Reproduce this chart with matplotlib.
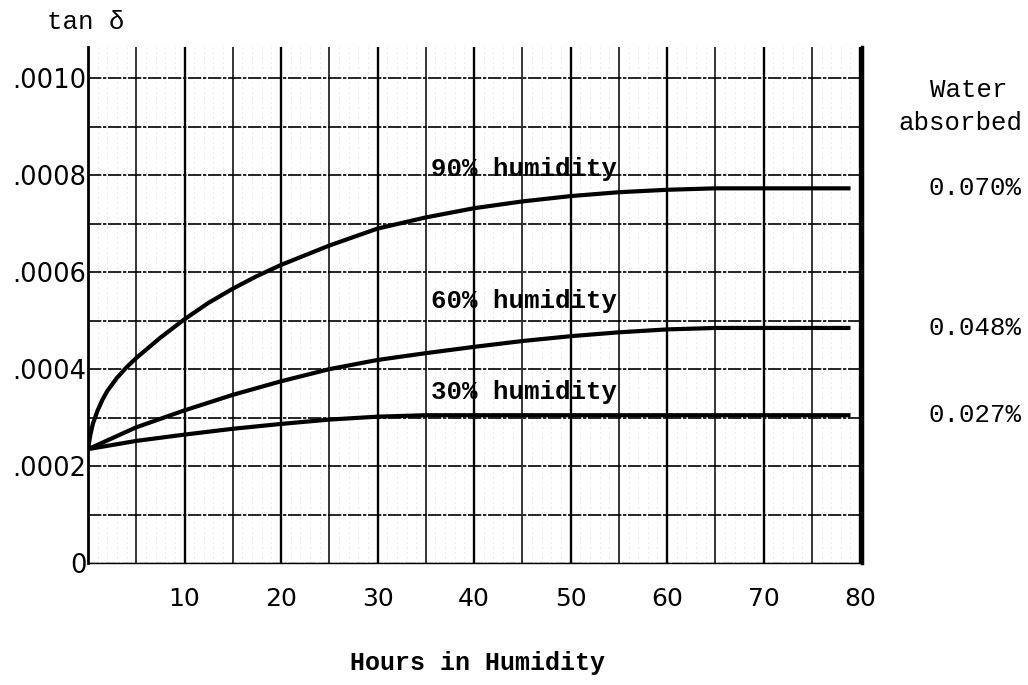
import matplotlib
matplotlib.use("Agg")
import matplotlib.pyplot as plt
import matplotlib.transforms as mtransforms
import numpy as np

# datos (horas, tan delta)
horas_90 = [0, 0.25, 0.5, 1, 1.5, 2, 3, 4, 5, 7.5, 10, 12.5, 15, 17.5, 20, 25, 30, 35,
            40, 45, 50, 55, 60, 65, 70, 79]
tan_90 = [0.000235, 0.000265, 0.000287, 0.000315, 0.000337, 0.000355, 0.000382, 0.000404,
          0.000423, 0.000465, 0.000503, 0.000537, 0.000566, 0.000592, 0.000615, 0.000655,
          0.00069, 0.000713, 0.000732, 0.000746, 0.000757, 0.000765, 0.00077, 0.000773,
          0.000773, 0.000773]

horas_60 = [0, 5, 10, 15, 20, 25, 30, 35, 40, 45, 50, 55, 60, 65, 79]
tan_60 = [0.000235, 0.00028, 0.000315, 0.000347, 0.000375, 0.0004, 0.000419, 0.000433,
          0.000446, 0.000458, 0.000468, 0.000476, 0.000482, 0.000485, 0.000485]

horas_30 = [0, 5, 10, 15, 20, 25, 30, 35, 79]
tan_30 = [0.000235, 0.000252, 0.000265, 0.000277, 0.000287, 0.000296, 0.000302, 0.000305, 0.000305]

etiquetas = ["90% humidity", "60% humidity", "30% humidity"]
agua = ["0.070%", "0.048%", "0.027%"]

x_ticks = [10, 20, 30, 40, 50, 60, 70, 80]
y_ticks = [0, 0.0002, 0.0004, 0.0006, 0.0008, 0.0010]
y_labels = ["0", ".0002", ".0004", ".0006", ".0008", ".0010"]

mono = "Liberation Mono"
sans = "DejaVu Sans"

fig = plt.figure(figsize=(10.28, 6.85), dpi=100)
ax = fig.add_axes([0.0856, 0.178, 0.753, 0.753])

ax.set_xlim(0, 80.2)
ax.set_ylim(0, 0.001064)

# papel cuadriculado
for xv in np.arange(5, 81, 5):
    ax.axvline(xv, color="black", lw=1.7 if xv % 10 == 0 else 1.1, zorder=1)
for xv in np.arange(1, 80, 1):
    if xv % 5:
        ax.axvline(xv, color="#c8c8c8", lw=0.6, ls=(0, (1, 5)), zorder=0)
for yv in np.arange(0.0001, 0.00101, 0.0001):
    ax.axhline(yv, color="black", lw=1.2, ls=(0, (8, 1, 2, 1)), zorder=1)
ax.axhline(0, color="black", lw=1.0, ls=(0, (8, 1, 2, 1)), zorder=1)

for h, t in [(horas_90, tan_90), (horas_60, tan_60), (horas_30, tan_30)]:
    ax.plot(h, t, color="black", lw=3, solid_capstyle="butt", solid_joinstyle="round", zorder=3)

pos_etq = [0.000812, 0.00054, 0.000352]
for txt, yv in zip(etiquetas, pos_etq):
    ax.text(35.5, yv, txt, family=mono, fontweight="bold", fontsize=18.5,
            va="center", ha="left", zorder=4)

# porcentaje de agua a la derecha, a la altura de cada curva
trans = mtransforms.blended_transform_factory(fig.transFigure, ax.transData)
for txt, yv in zip(agua, [tan_90[-1], tan_60[-1], tan_30[-1]]):
    ax.text(975 / 1028, yv, txt, transform=trans, family=mono, fontsize=18.5,
            ha="center", va="center", clip_on=False)
fig.text(969 / 1028, 1 - 90 / 685, "Water", family=mono, fontsize=18.5, ha="center", va="center")
fig.text(960 / 1028, 1 - 123 / 685, "absorbed", family=mono, fontsize=18.5, ha="center", va="center")

ax.spines["top"].set_visible(False)
ax.spines["left"].set_linewidth(2)
ax.spines["right"].set_linewidth(2.5)
ax.spines["bottom"].set_linewidth(1)

ax.set_xticks(x_ticks)
ax.set_xticklabels([str(v) for v in x_ticks], family=sans, fontsize=18)
ax.set_yticks(y_ticks)
ax.set_yticklabels(y_labels, family=sans, fontsize=18.5)
ax.tick_params(length=0, pad=17, axis="x")
ax.tick_params(length=0, pad=1, axis="y")

fig.text(86 / 1028, 1 - 22 / 685, "tan δ", family=mono, fontsize=18.5, ha="center", va="center")
fig.text(477 / 1028, 1 - 663 / 685, "Hours in Humidity", family=mono, fontweight="bold",
         fontsize=18, ha="center", va="center")

fig.savefig("out.png", dpi=100)
